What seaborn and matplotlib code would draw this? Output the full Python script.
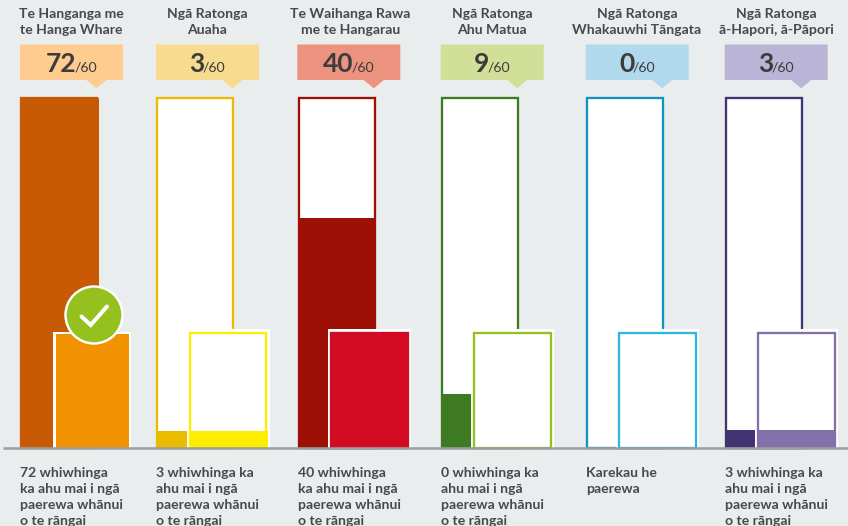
import matplotlib
matplotlib.use("Agg")
import matplotlib.pyplot as plt
from matplotlib.patches import Polygon, Circle
import seaborn as sns

# ---- data ----
headers = ["Te Hanganga me\nte Hanga Whare", "Ngā Ratonga\nAuaha", "Te Waihanga Rawa\nme te Hangarau",
           "Ngā Ratonga\nAhu Matua", "Ngā Ratonga\nWhakauwhi Tāngata", "Ngā Ratonga\nā-Hapori, ā-Pāpori"]
scores = ["72", "3", "40", "9", "0", "3"]
score_suffix = "/60"
footers = ["72 whiwhinga\nka ahu mai i ngā\npaerewa whānui\no te rāngai",
           "3 whiwhinga ka\nahu mai i ngā\npaerewa whānui\no te rāngai",
           "40 whiwhinga\nka ahu mai i ngā\npaerewa whānui\no te rāngai",
           "0 whiwhinga ka\nahu mai i ngā\npaerewa whānui\no te rāngai",
           "Karekau he\npaerewa",
           "3 whiwhinga ka\nahu mai i ngā\npaerewa whānui\no te rāngai"]
back_capacity = 60
back_fill = [60, 3, 39.45, 9.3, 0, 3.1]
front_target = [19.75, 19.75, 19.75, 19.75, 19.75, 19.75]
front_fill = [19.6, 3, 19.9, 0, 0, 3.1]

# ---- layout (pixels) and colours ----
W, H = 848, 526
BASE_PX, PX_PER_UNIT = 448.3, 5.838
STROKE = 2.3
back_left = [20, 156, 297.5, 440.7, 585.7, 724.7]
front_left = [55.7, 189, 330.3, 473.3, 618.3, 757.3]
box_left = [20, 156, 297.3, 440.7, 585.7, 724.7]
head_x = [71.5, 207.5, 350.5, 492, 637, 776.5]
back_w, front_w, box_w = 78.6, 78.6, 103
back_col = ["#C85A05", "#EBBB00", "#9E0F05", "#3E7A21", "#0F94C0", "#423473"]
front_col = ["#F39200", "#FFED00", "#D20A22", "#95C11F", "#2FB6DF", "#8270A8"]
box_col = ["#FFCC8F", "#F7DC90", "#EB937F", "#D2DF98", "#B1D9EE", "#BAB4D6"]
BG, TEXT = "#E9EDEE", "#48494A"

sns.set_theme(style="white")
plt.rcParams["font.family"] = ["Lato", "DejaVu Sans"]
pt = 0.72  # 1 px in points at dpi 100

fig = plt.figure(figsize=(W / 100, H / 100), dpi=100, facecolor=BG)
ax = fig.add_axes([0, 0, 1, 1], facecolor=BG)


def bar(center, value, width, color, edge=None, lw=0.0):
    sns.barplot(x=[center], y=[value], native_scale=True, width=width, color=color, saturation=1,
                errorbar=None, edgecolor=edge if edge else color, linewidth=lw, ax=ax)


for i in range(6):
    bc = back_left[i] + back_w / 2
    fc = front_left[i] + front_w / 2 if i else 92.3
    bar(bc, back_capacity, back_w - STROKE, "white", back_col[i], STROKE * pt)
    bar(bc, back_fill[i], back_w, back_col[i])
    if i == 0:   # the achieved standard has a white outline instead of a coloured one
        bar(fc, front_target[i] + 0.17, 78, "white")
        bar(fc, front_fill[i], 73.6, front_col[i])
    else:
        bar(fc, front_target[i] + 0.6, front_w + 2 * STROKE, "white")
        bar(fc, front_target[i], front_w - STROKE, "white", front_col[i], STROKE * pt)
        bar(fc, front_fill[i], front_w, front_col[i])

ax.hlines(0, 3, W, color="#9D9FA0", lw=2.6 * pt, zorder=5)
ax.set_xlim(0, W)
ax.set_ylim(-(H - BASE_PX) / PX_PER_UNIT, BASE_PX / PX_PER_UNIT)
ax.axis("off")

# overlay in pixel coordinates for annotations
ov = fig.add_axes([0, 0, 1, 1], facecolor="none")
ov.set_xlim(0, W)
ov.set_ylim(H, 0)
ov.axis("off")
renderer = fig.canvas.get_renderer()

for i in range(6):
    left = box_left[i]
    tip = left + 76.5
    ov.add_patch(Polygon([(left, 44.5), (left + box_w, 44.5), (left + box_w, 80), (tip + 10, 80), (tip, 88.3),
                          (tip - 10, 80), (left, 80)], closed=True, fc=box_col[i], ec="none"))
    for k, line in enumerate(headers[i].split("\n")):
        ov.text(head_x[i], 14 + 16 * k, line, ha="center", va="center", fontsize=14 * pt, fontweight="bold",
                color=TEXT)
    big = ov.text(0, 72, scores[i], ha="left", va="baseline", fontsize=19, fontweight="bold", color="#3C3C3B")
    small = ov.text(0, 72, score_suffix, ha="left", va="baseline", fontsize=10.2, color="#3C3C3B")
    bw = big.get_window_extent(renderer).width
    sw = small.get_window_extent(renderer).width
    x0 = left + box_w / 2 - (bw + sw - 2) / 2
    big.set_x(x0)
    small.set_x(x0 + bw - 2)
    for k, line in enumerate(footers[i].split("\n")):
        ov.text(back_left[i], 472.8 + 16 * k, line, ha="left", va="center", fontsize=14 * pt, fontweight="bold",
                color=TEXT)

ov.add_patch(Circle((94, 315), 28.5, fc="#95C11F", ec="white", lw=2.4 * pt, zorder=6))
ov.plot([81.5, 90.7, 107], [316.5, 325, 306.5], color="white", lw=4 * pt, solid_capstyle="round",
        solid_joinstyle="miter", zorder=7)

fig.savefig("out.png", dpi=100, facecolor=BG)
